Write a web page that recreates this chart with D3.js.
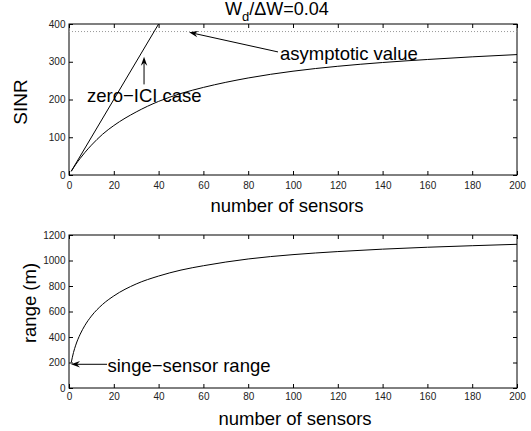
<!DOCTYPE html>
<html>
<head>
<meta charset="utf-8">
<script src="https://cdn.jsdelivr.net/npm/d3@7"></script>
<style>
  body { margin: 0; background: #fff; }
  text { font-family: "Liberation Sans", Arial, Helvetica, sans-serif; fill: #000; }
  .tick text { font-size: 10px; fill: #222; }
</style>
</head>
<body>
<div id="chart"></div>
<script>
// data

var sensors = [1, 2, 3, 5, 7, 10, 15, 20, 30, 40, 50, 60, 80, 100, 120, 140, 160, 180, 200];
var sinr = [9.7, 19, 28, 44, 59, 79, 108, 131, 167, 195, 216, 232, 257, 275, 288, 298, 306, 313, 319];
var rangeM = [200, 278, 336, 422, 488, 564, 656, 722, 816, 878, 925, 959, 1012, 1046, 1070, 1089, 1104, 1116, 1127];

var zeroIciX = [1, 40];
var zeroIciY = [10, 400];
var asymptote = 380;

var xTicks = [0, 20, 40, 60, 80, 100, 120, 140, 160, 180, 200];
var sinrTicks = [0, 100, 200, 300, 400];
var rangeTicks = [0, 200, 400, 600, 800, 1000, 1200];

// drawing area

var width = 531,
	height = 431;

var svg = d3.select('#chart')
	.append('svg')
	.attr('width', width)
	.attr('height', height);

var x1 = d3.scaleLinear().domain([0, 200]).range([69, 517]);
var y1 = d3.scaleLinear().domain([0, 400]).range([175, 24]);
var x2 = d3.scaleLinear().domain([0, 200]).range([69, 517]);
var y2 = d3.scaleLinear().domain([0, 1200]).range([388, 235]);

// axes with inward ticks on all four sides
var drawAxes = function(x, y, yTicks, xPad){
	var g = svg.append('g');
	g.append('g')
		.attr('transform', 'translate(0,' + y.range()[0] + ')')
		.call(d3.axisBottom(x).tickValues(xTicks).tickFormat(d3.format('d')).tickSizeInner(-4).tickSizeOuter(0).tickPadding(xPad));
	g.append('g')
		.attr('transform', 'translate(0,' + y.range()[1] + ')')
		.call(d3.axisTop(x).tickValues(xTicks).tickSizeInner(-4).tickSizeOuter(0).tickFormat(''));
	g.append('g')
		.attr('transform', 'translate(' + x.range()[0] + ',0)')
		.call(d3.axisLeft(y).tickValues(yTicks).tickFormat(d3.format('d')).tickSizeInner(-4).tickSizeOuter(0).tickPadding(3.5));
	g.append('g')
		.attr('transform', 'translate(' + x.range()[1] + ',0)')
		.call(d3.axisRight(y).tickValues(yTicks).tickSizeInner(-4).tickSizeOuter(0).tickFormat(''));
	g.selectAll('.domain').remove();
	g.selectAll('.tick line').attr('stroke', '#000');
	g.append('rect')
		.attr('x', x.range()[0])
		.attr('y', y.range()[1])
		.attr('width', x.range()[1] - x.range()[0])
		.attr('height', y.range()[0] - y.range()[1])
		.attr('fill', 'none')
		.attr('stroke', '#000')
		.attr('stroke-width', 1);
	return g;
};

drawAxes(x1, y1, sinrTicks, 7);
drawAxes(x2, y2, rangeTicks, 5);

// arrow helper (filled dart head)
var arrow = function(xa, ya, xb, yb){
	var dx = xb - xa, dy = yb - ya;
	var len = Math.sqrt(dx * dx + dy * dy);
	var ux = dx / len, uy = dy / len;
	var hl = 9, hw = 3.2;
	var bx = xb - ux * hl, by = yb - uy * hl;
	svg.append('line')
		.attr('x1', xa).attr('y1', ya)
		.attr('x2', xb - ux * 5).attr('y2', yb - uy * 5)
		.attr('stroke', '#000').attr('stroke-width', 1);
	svg.append('path')
		.attr('d', 'M' + xb + ',' + yb +
			'L' + (bx - uy * hw) + ',' + (by + ux * hw) +
			'L' + (xb - ux * 6) + ',' + (yb - uy * 6) +
			'L' + (bx + uy * hw) + ',' + (by - ux * hw) + 'Z')
		.attr('fill', '#000');
};

// top panel: SINR
var line1 = d3.line()
	.x(function(d, i){ return x1(sensors[i]); })
	.y(function(d){ return y1(d); })
	.curve(d3.curveMonotoneX);

svg.append('line')
	.attr('x1', x1(0)).attr('x2', x1(200))
	.attr('y1', y1(asymptote)).attr('y2', y1(asymptote))
	.attr('stroke', '#999')
	.attr('stroke-width', 1)
	.attr('stroke-dasharray', '1,2');

svg.append('path')
	.datum(sinr)
	.attr('d', line1)
	.attr('fill', 'none')
	.attr('stroke', '#000')
	.attr('stroke-width', 1);

svg.append('line')
	.attr('x1', x1(zeroIciX[0])).attr('y1', y1(zeroIciY[0]))
	.attr('x2', x1(zeroIciX[1])).attr('y2', y1(zeroIciY[1]))
	.attr('stroke', '#000')
	.attr('stroke-width', 1);

svg.append('text')
	.attr('x', 87).attr('y', 101.5)
	.style('font-size', '18.5px')
	.text('zero\u2212ICI case');
arrow(x1(33.5), y1(240), x1(33.5), y1(313));

svg.append('text')
	.attr('x', 280).attr('y', 60)
	.style('font-size', '18.5px')
	.text('asymptotic value');
arrow(x1(93.3), y1(326), x1(53.6), y1(378));

// title
var title = svg.append('text')
	.attr('x', 225).attr('y', 15)
	.style('font-size', '18px');
title.append('tspan').text('W');
title.append('tspan').attr('dy', 6).style('font-size', '13px').text('d');
title.append('tspan').attr('dy', -6).text('/\u0394W=0.04');

svg.append('text')
	.attr('x', 287).attr('y', 212)
	.attr('text-anchor', 'middle')
	.style('font-size', '18.5px')
	.text('number of sensors');

svg.append('text')
	.attr('transform', 'translate(27,102) rotate(-90)')
	.attr('text-anchor', 'middle')
	.style('font-size', '19px')
	.text('SINR');

// bottom panel: range
var line2 = d3.line()
	.x(function(d, i){ return x2(sensors[i]); })
	.y(function(d){ return y2(d); })
	.curve(d3.curveMonotoneX);

svg.append('path')
	.datum(rangeM)
	.attr('d', line2)
	.attr('fill', 'none')
	.attr('stroke', '#000')
	.attr('stroke-width', 1);

svg.append('text')
	.attr('x', 107.5).attr('y', 371.5)
	.style('font-size', '18.5px')
	.text('singe\u2212sensor range');
arrow(107, y2(186), x2(0.9), y2(186));

svg.append('text')
	.attr('x', 295).attr('y', 425)
	.attr('text-anchor', 'middle')
	.style('font-size', '18.5px')
	.text('number of sensors');

svg.append('text')
	.attr('transform', 'translate(36,303) rotate(-90)')
	.attr('text-anchor', 'middle')
	.style('font-size', '18.5px')
	.text('range (m)');
</script>
</body>
</html>
